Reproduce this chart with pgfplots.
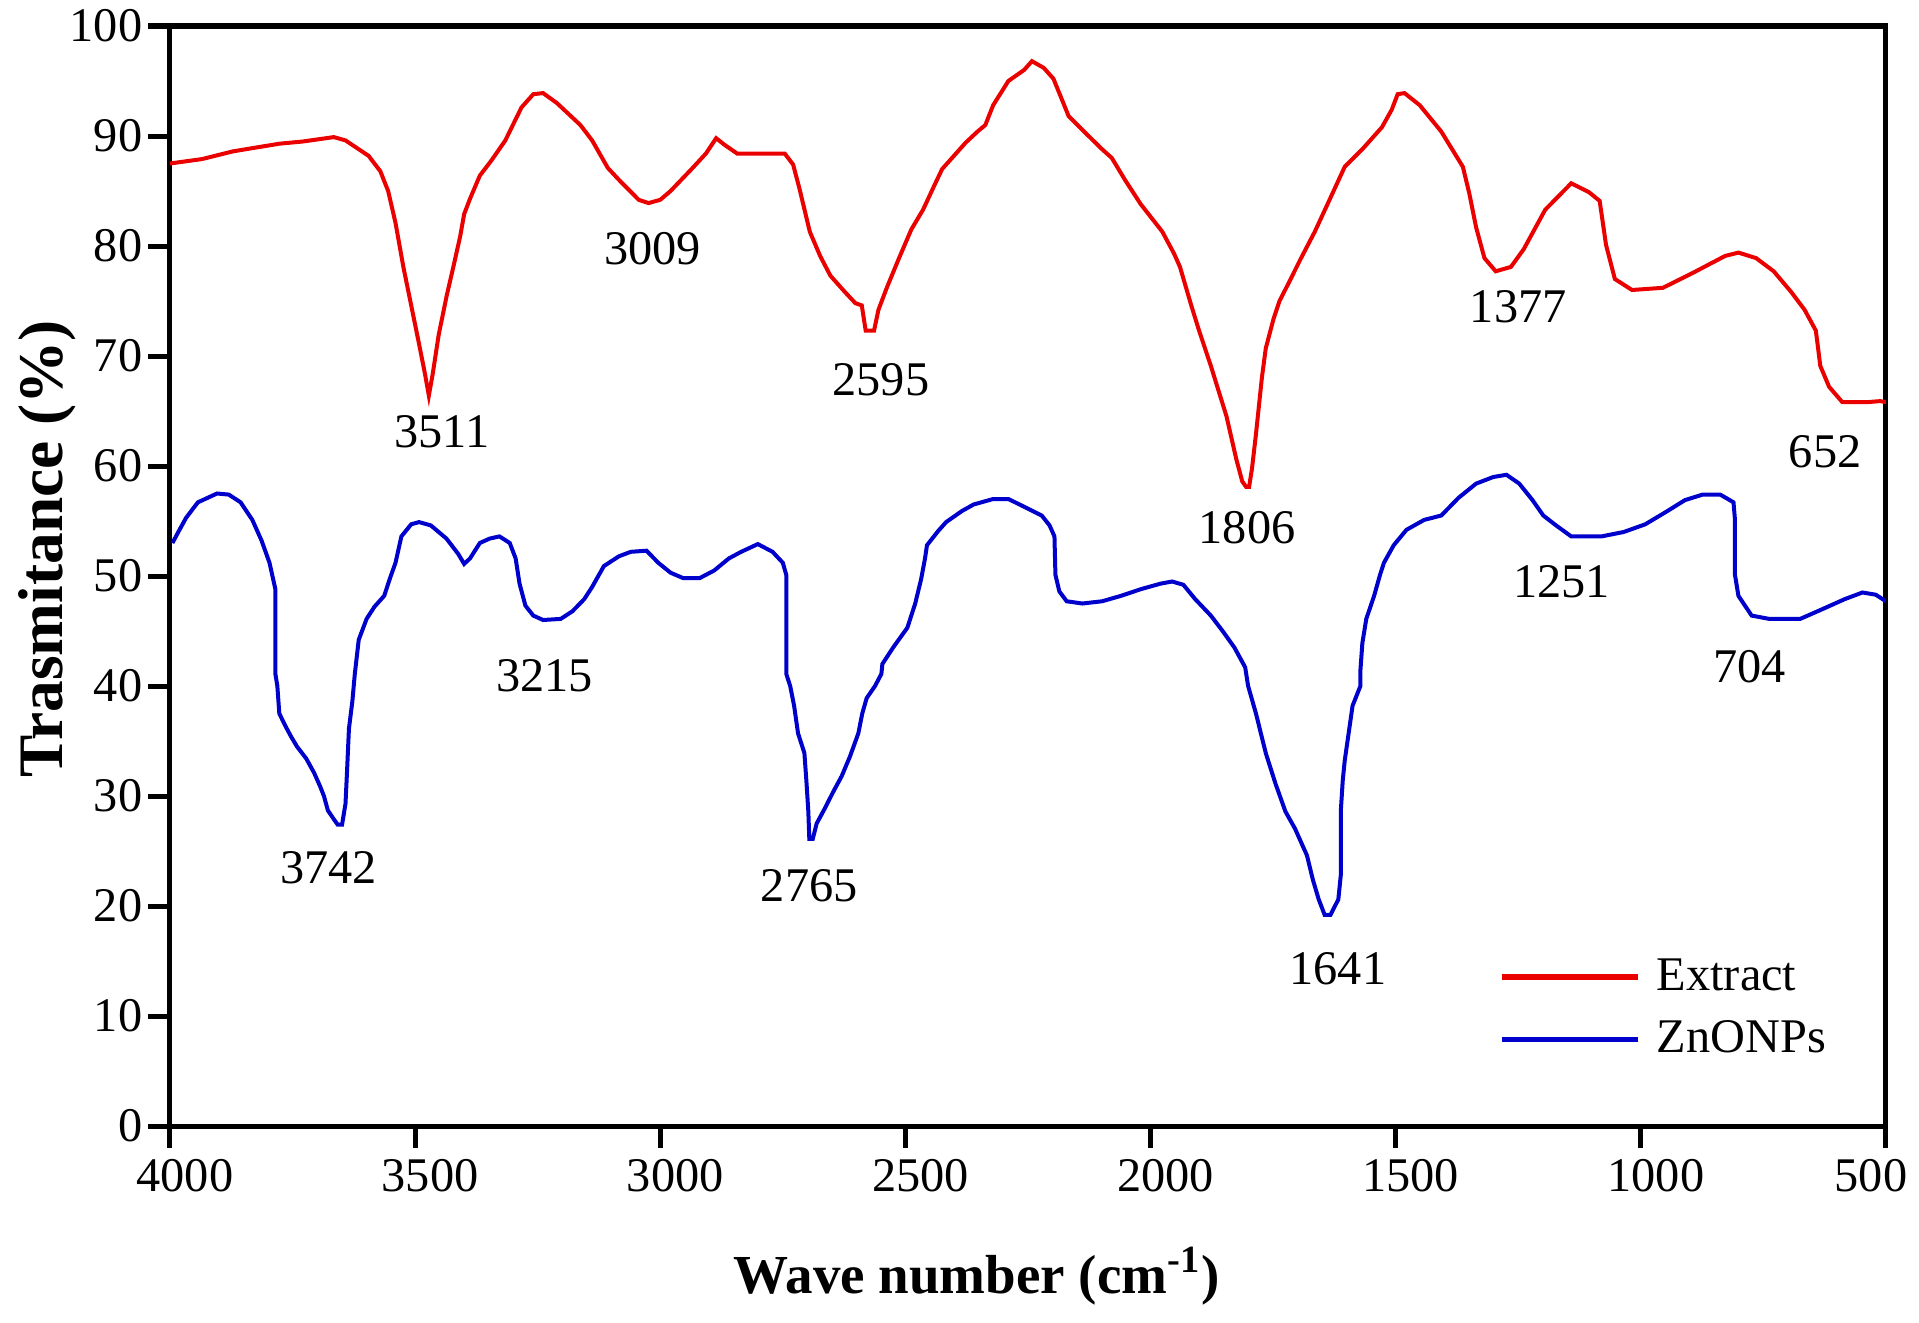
\documentclass[border=0pt]{standalone}
\usepackage{fontspec}
\setmainfont{Liberation Serif}
\usepackage{pgfplots}
\pgfplotsset{compat=1.18}
\definecolor{ftred}{RGB}{235,0,0}
\definecolor{ftblue}{RGB}{0,0,205}
\tikzset{ann/.style={font=\fontsize{14.5}{17}\selectfont, inner sep=0pt}}
\begin{document}
\begin{tikzpicture}
\useasboundingbox (-51pt,-58.8pt) rectangle (524.7pt,337.8pt);
\begin{axis}[
  at={(0,0)}, anchor=south west,
  scale only axis, width=514.8pt, height=330pt,
  xmin=500, xmax=4000, x dir=reverse,
  ymin=0, ymax=100,
  xtick={1000,1500,...,4000}, ytick={0,10,...,100},
  extra x ticks={500},
  extra x tick style={xticklabel style={xshift=-9pt}},
  tick align=outside, xtick pos=bottom, ytick pos=left,
  major tick length=6.6pt,
  axis line style={line width=1.5pt},
  tick style={black, line width=1.5pt},
  tick label style={font=\fontsize{14.5}{17}\selectfont},
  xticklabel style={xshift=4.5pt},
  yticklabel style={xshift=1.8pt},
  /pgf/number format/assume math mode=true,
  /pgf/number format/set thousands separator={},
  xlabel={\textbf{Wave number (cm\textsuperscript{-1})}},
  ylabel={\textbf{Trasmitance (\%)}},
  xlabel style={font=\fontsize{16.5}{20}\selectfont, at={(axis description cs:0.47,-0.152)}, anchor=base},
  ylabel style={font=\fontsize{19}{23}\selectfont, at={(axis description cs:-0.0624,0.5245)}, anchor=base},
  legend style={at={(axis description cs:0.774,0.107)}, anchor=west, draw=none, fill=none,
    font=\fontsize{14.5}{17}\selectfont, inner sep=0pt, row sep=3.6pt},
  legend cell align=left,
  legend image code/.code={\draw[#1, line width=1.6pt] (0pt,0pt) -- (41pt,0pt); \path (44pt,0pt);},
]
\addplot[ftred, line width=1.2pt] coordinates {
(4000,87.5) (3935,87.9) (3872,88.6) (3777,89.3) (3729,89.5) (3666,89.9) (3642,89.6)
(3595,88.2) (3571,86.8) (3555,85.0) (3540,82.1) (3524,78.1) (3508,74.6) (3492,71.1)
(3480,68.4) (3472,66.4) (3464,68.4) (3452,71.9) (3436,75.4) (3420,78.5) (3408,80.9)
(3400,82.9) (3388,84.3) (3368,86.4) (3344,87.8) (3316,89.6) (3283,92.6) (3259,93.8)
(3239,93.9) (3211,93.0) (3163,91.0) (3139,89.6) (3107,87.1) (3084,86.0) (3044,84.2)
(3024,83.9) (3000,84.2) (2979,85.0) (2936,87.0) (2907,88.4) (2886,89.8) (2869,89.2)
(2843,88.4) (2746,88.4) (2729,87.4) (2716,85.2) (2695,81.3) (2674,79.1) (2653,77.3)
(2623,75.8) (2602,74.8) (2589,74.6) (2581,72.3) (2564,72.3) (2555,74.2) (2538,76.2)
(2513,78.9) (2488,81.5) (2464,83.3) (2440,85.6) (2425,87.0) (2377,89.4) (2353,90.4)
(2337,91.0) (2321,92.8) (2290,95.0) (2258,96.0) (2242,96.8) (2218,96.2) (2198,95.2)
(2167,91.8) (2131,90.2) (2099,88.8) (2079,88.0) (2052,86.0) (2020,83.8) (1976,81.3)
(1952,79.3) (1940,78.1) (1917,74.6) (1901,72.3) (1877,69.1) (1861,66.8) (1845,64.5)
(1825,60.6) (1813,58.6) (1805,58.1) (1799,58.1) (1793,59.8) (1785,62.9) (1773,68.0)
(1765,70.7) (1749,73.4) (1737,75.0) (1721,76.4) (1693,78.9) (1665,81.3) (1637,84.0)
(1604,87.2) (1568,88.8) (1528,90.8) (1508,92.4) (1496,93.8) (1482,93.9) (1451,92.8)
(1407,90.4) (1363,87.2) (1350,84.8) (1336,81.7) (1319,78.9) (1296,77.7) (1265,78.1)
(1239,79.7) (1195,83.3) (1142,85.7) (1106,84.9) (1084,84.1) (1071,80.1) (1053,77.0)
(1018,76.0) (955,76.2) (892,77.6) (828,79.1) (801,79.4) (765,78.9) (729,77.7)
(693,75.8) (666,74.2) (643,72.3) (634,69.1) (616,67.2) (589,65.8) (539,65.8)
(512,65.9) (500,65.8)
};
\addlegendentry{Extract}
\addplot[ftblue, line width=1.2pt] coordinates {
(3995,53.0) (3983,54.0) (3967,55.3) (3943,56.7) (3904,57.5) (3880,57.4) (3856,56.7)
(3832,55.1) (3813,53.2) (3797,51.2) (3785,48.8) (3785,41.1) (3781,40.0) (3777,37.5)
(3765,36.4) (3753,35.4) (3741,34.5) (3722,33.4) (3706,32.1) (3694,30.9) (3686,30.0)
(3678,28.7) (3666,27.9) (3658,27.4) (3649,27.4) (3642,29.3) (3639,32.1) (3635,36.1)
(3628,38.6) (3623,41.1) (3615,44.2) (3599,46.1) (3583,47.2) (3563,48.2) (3552,49.7)
(3540,51.2) (3528,53.6) (3508,54.7) (3492,54.9) (3468,54.6) (3436,53.4) (3412,52.0)
(3400,51.1) (3388,51.6) (3368,53.0) (3348,53.4) (3328,53.6) (3307,53.0) (3295,51.6)
(3287,49.3) (3275,47.3) (3259,46.4) (3239,46.0) (3203,46.1) (3179,46.8) (3155,47.9)
(3139,49.0) (3115,50.9) (3084,51.8) (3060,52.2) (3028,52.3) (3004,51.2) (2979,50.3)
(2953,49.8) (2920,49.8) (2890,50.5) (2860,51.6) (2835,52.2) (2801,52.9) (2771,52.2)
(2750,51.2) (2743,50.1) (2743,41.1) (2735,40.0) (2727,38.2) (2719,35.7) (2706,33.9)
(2702,31.4) (2698,28.6) (2696,26.1) (2689,26.1) (2681,27.5) (2664,28.9) (2647,30.4)
(2630,31.8) (2613,33.6) (2596,35.7) (2588,37.5) (2579,38.9) (2562,40.0) (2549,41.1)
(2547,42.0) (2525,43.5) (2496,45.3) (2480,47.5) (2468,49.7) (2460,51.6) (2456,52.8)
(2433,54.1) (2417,54.9) (2385,55.9) (2361,56.5) (2321,57.0) (2290,57.0) (2258,56.3)
(2222,55.5) (2206,54.6) (2196,53.6) (2194,50.1) (2186,48.6) (2171,47.7) (2139,47.5)
(2099,47.7) (2060,48.2) (2020,48.8) (1980,49.3) (1956,49.5) (1933,49.2) (1909,47.9)
(1877,46.4) (1853,45.0) (1829,43.5) (1807,41.7) (1801,40.0) (1785,37.5) (1765,33.9)
(1745,31.1) (1725,28.6) (1705,27.0) (1681,24.6) (1669,22.4) (1657,20.6) (1645,19.2)
(1633,19.2) (1617,20.6) (1612,22.8) (1612,28.6) (1608,31.4) (1604,33.2) (1596,35.7)
(1588,38.2) (1572,40.0) (1572,41.4) (1568,43.9) (1560,46.1) (1544,48.2) (1532,50.1)
(1524,51.2) (1504,52.8) (1478,54.2) (1442,55.1) (1407,55.5) (1372,57.1) (1336,58.4)
(1301,59.0) (1274,59.2) (1248,58.4) (1221,56.9) (1199,55.5) (1173,54.6) (1142,53.6)
(1080,53.6) (1035,54.0) (991,54.7) (946,55.9) (910,56.9) (874,57.4) (838,57.4)
(811,56.7) (808,55.1) (808,50.1) (801,48.2) (774,46.4) (738,46.1) (675,46.1)
(629,47.0) (584,47.9) (548,48.5) (521,48.3) (500,47.7)
};
\addlegendentry{ZnONPs}
\node[ann] at (axis cs:3445,63.1) {3511};
\node[ann] at (axis cs:3016,79.8) {3009};
\node[ann] at (axis cs:2550,67.8) {2595};
\node[ann] at (axis cs:1803,54.4) {1806};
\node[ann] at (axis cs:1250,74.5) {1377};
\node[ann] at (axis cs:624,61.3) {652};
\node[ann] at (axis cs:3676,23.5) {3742};
\node[ann] at (axis cs:3236,40.9) {3215};
\node[ann] at (axis cs:2696,21.8) {2765};
\node[ann] at (axis cs:1618,14.3) {1641};
\node[ann] at (axis cs:1162,49.5) {1251};
\node[ann] at (axis cs:778,41.8) {704};
\end{axis}
\end{tikzpicture}
\end{document}
